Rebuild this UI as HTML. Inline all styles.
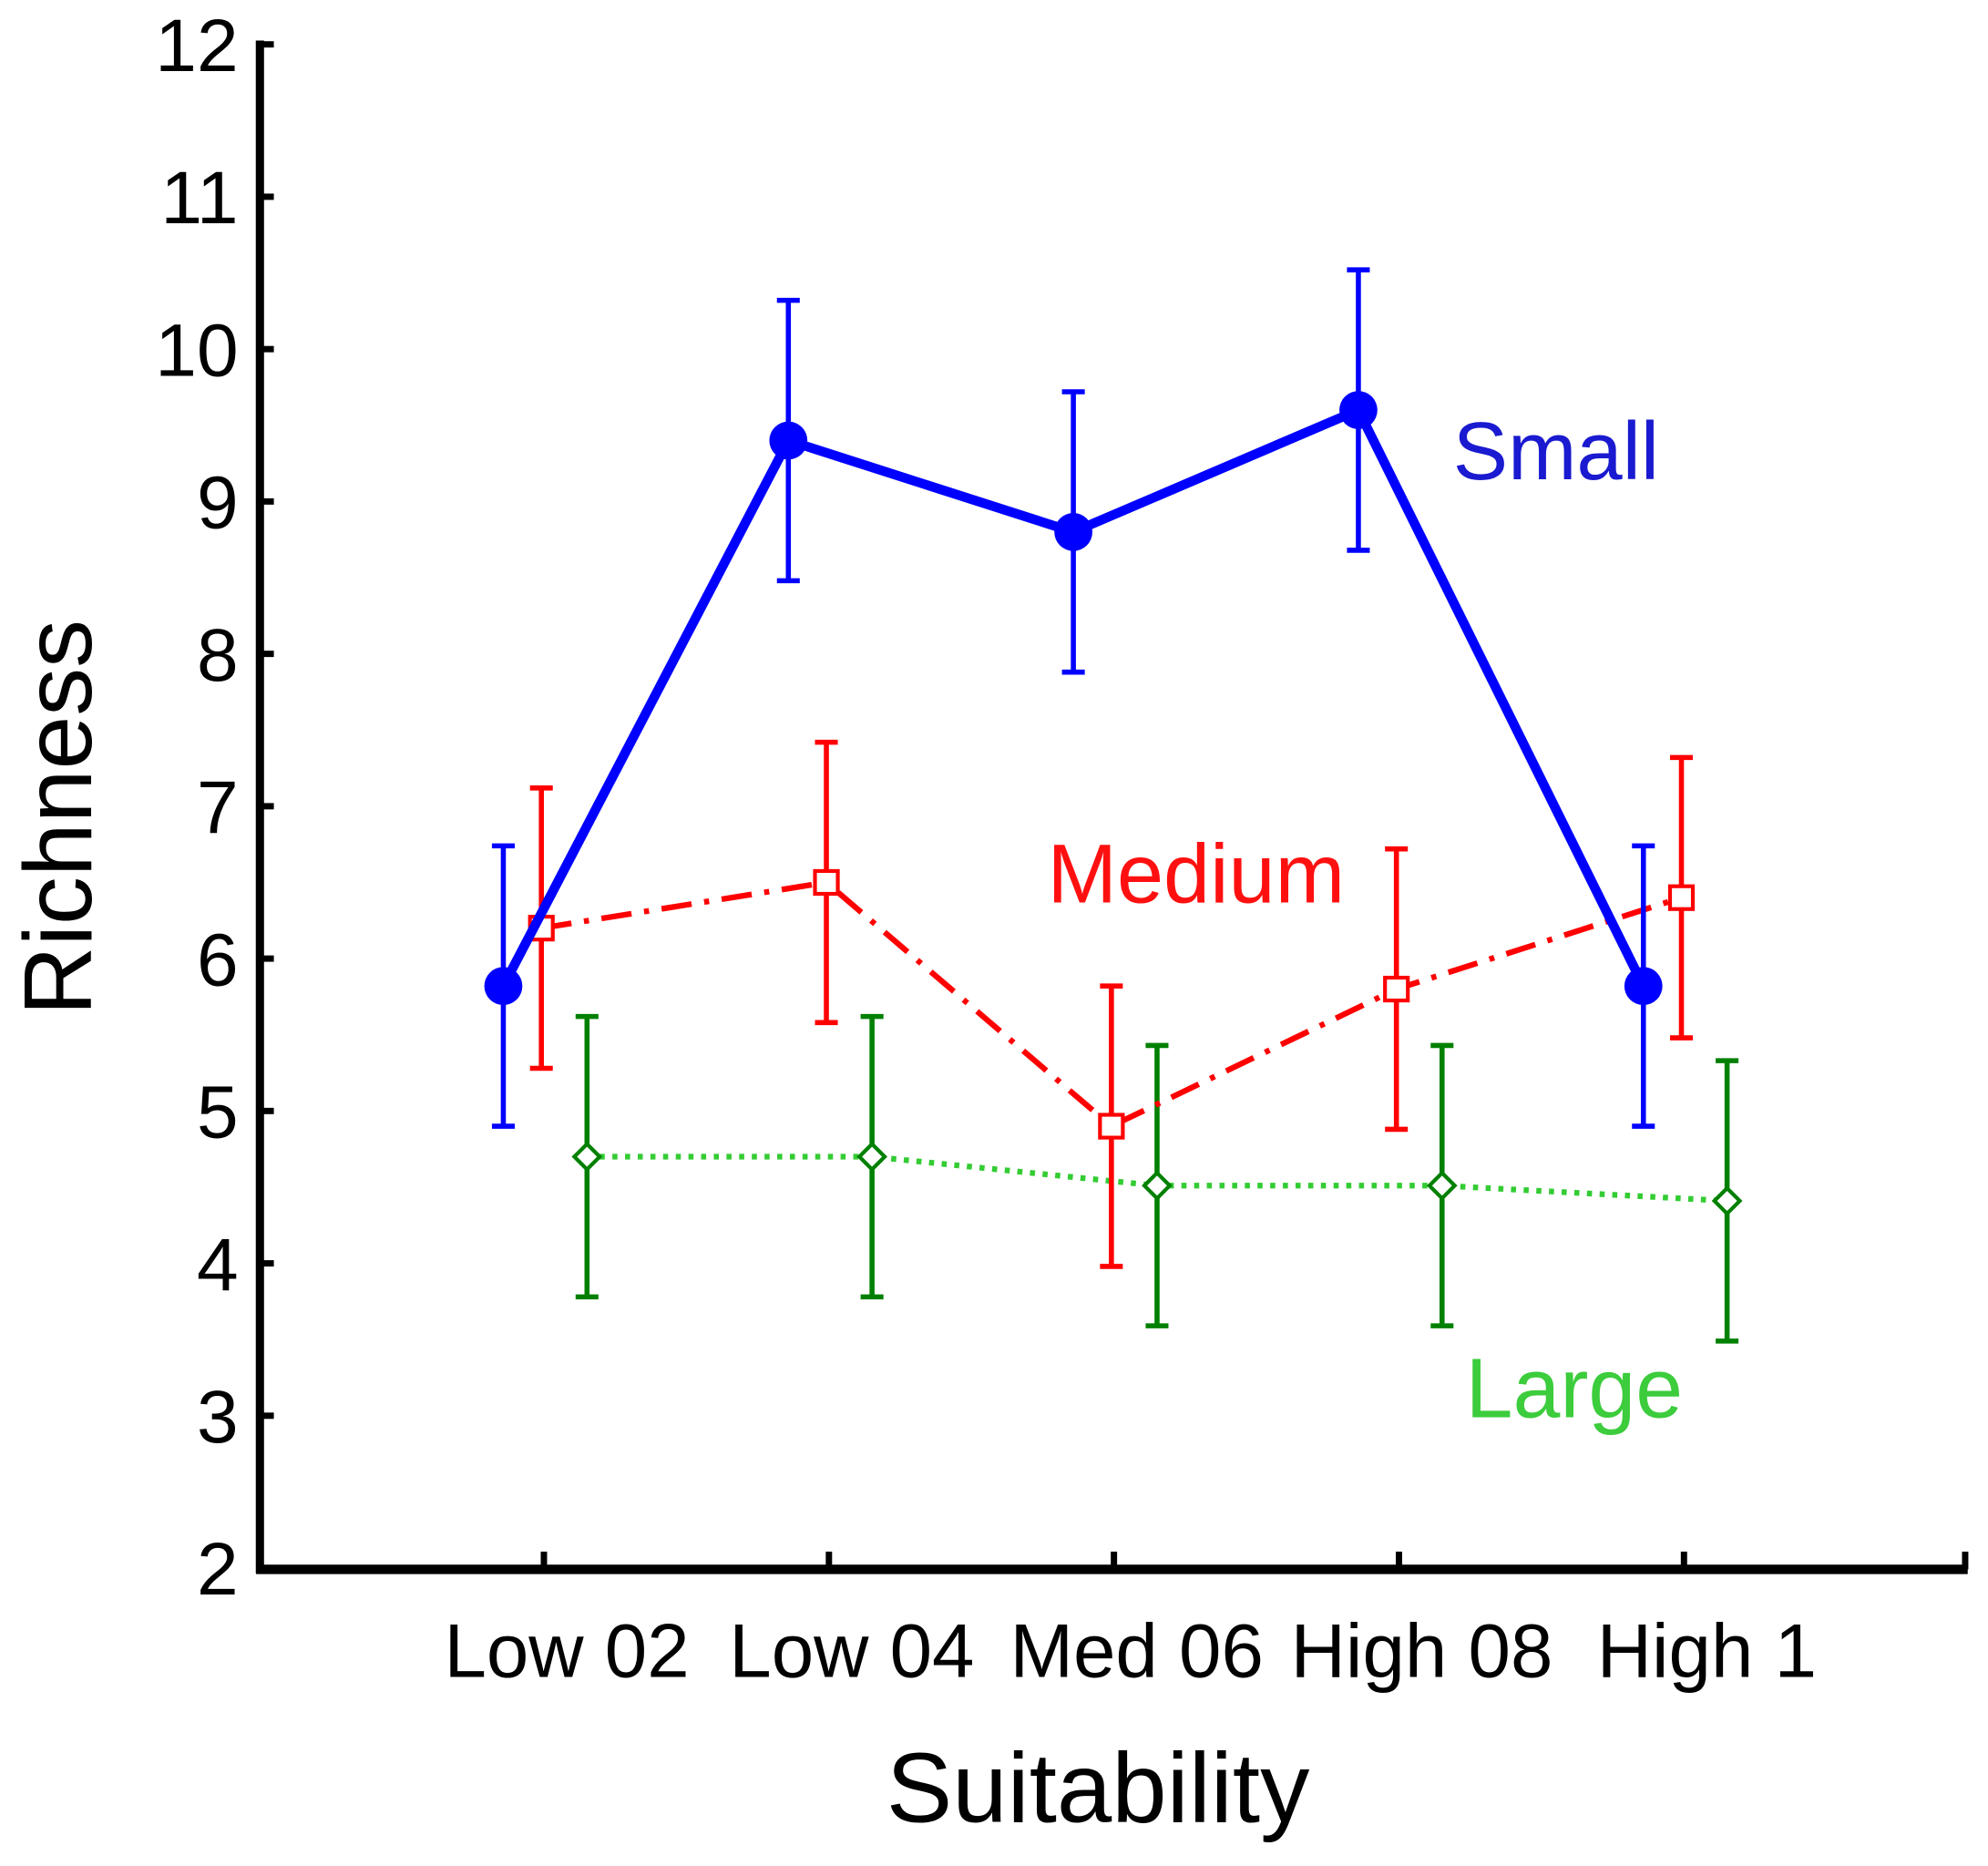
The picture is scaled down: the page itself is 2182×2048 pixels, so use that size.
<!DOCTYPE html>
<html><head><meta charset="utf-8"><style>html,body{margin:0;padding:0;background:#fff}svg{display:block}</style></head>
<body>
<svg width="2182" height="2048" viewBox="0 0 1568 1472" preserveAspectRatio="none" xmlns="http://www.w3.org/2000/svg" font-family="Liberation Sans, Arial, sans-serif">
<g id="axes"></g>
<g id="series"></g>
<text x="866" y="1437" font-size="78" text-anchor="middle">Suitability</text>
<text transform="translate(72,645) rotate(-90)" font-size="76" text-anchor="middle">Richness</text>
<text x="1146" y="378" font-size="65" fill="#1a1ad0">Small</text>
<text x="826" y="712" font-size="66" fill="#ff1010">Medium</text>
<text x="1156" y="1118" font-size="67" fill="#3ccc3c">Large</text>
<script>
const categories = ["Low 02","Low 04","Med 06","High 08","High 1"];
const yTicks = [2,3,4,5,6,7,8,9,10,11,12];
const smallMean = [5.82,9.4,8.8,9.6,5.82];
const smallErr = [0.92,0.92,0.92,0.92,0.92];
const mediumMean = [6.2,6.5,4.9,5.8,6.4];
const mediumErr = [0.92,0.92,0.92,0.92,0.92];
const largeMean = [4.7,4.7,4.51,4.51,4.41];
const largeErr = [0.92,0.92,0.92,0.92,0.92];

const NS="http://www.w3.org/2000/svg";
function y(v){return 1237-(v-2)*120.2;}
function xc(i){return 429+i*224.8;}
function mk(tag,attrs,parent){const e=document.createElementNS(NS,tag);for(const k in attrs)e.setAttribute(k,attrs[k]);parent.appendChild(e);return e;}
const ax=document.getElementById('axes');
let e=mk('line',{x1:205,y1:32,x2:205,y2:1241,stroke:'#000','stroke-width':6.5},ax);


e=mk('line',{x1:202,y1:1238,x2:1552,y2:1238,stroke:'#000','stroke-width':7.5},ax);


yTicks.forEach(t=>{
  let l=mk('line',{x1:205,y1:y(t),x2:216,y2:y(t),stroke:'#000','stroke-width':5},ax);
  
  
  let tx=mk('text',{x:188,y:y(t)+21,'font-size':59,'text-anchor':'end'},ax);
  tx.textContent=t;
  
  
});
categories.forEach((c,i)=>{
  let l=mk('line',{x1:xc(i),y1:1224,x2:xc(i),y2:1238,stroke:'#000','stroke-width':5},ax);
  
  
  let tx=mk('text',{x:xc(i)+18,y:1323,'font-size':60,'text-anchor':'middle'},ax);
  tx.textContent=c;
  
  
});
e=mk('line',{x1:1550,y1:1224,x2:1550,y2:1238,stroke:'#000','stroke-width':5},ax);



const sg=document.getElementById('series');
function series(name,mean,err,off,errColor,lineColor,lw,dash,marker){
  const g=mk('g',{},sg);
  
  
  mean.forEach((m,i)=>{
    const X=xc(i)+off;
    const eb=mk('path',{d:`M${X},${y(m-err[i])}V${y(m+err[i])}M${X-9},${y(m+err[i])}H${X+9}M${X-9},${y(m-err[i])}H${X+9}`,stroke:errColor,'stroke-width':4,fill:'none'},g);
    
    
  });
  const pts=mean.map((m,i)=>(xc(i)+off)+','+y(m)).join(' ');
  const pl=mk('polyline',{points:pts,stroke:lineColor,'stroke-width':lw,fill:'none','stroke-dasharray':dash},g);
  
  
  mean.forEach((m,i)=>{
    const X=xc(i)+off,Y=y(m);let p;
    if(marker==='circle')p=mk('circle',{cx:X,cy:Y,r:15,fill:'#0000ff'},g);
    else if(marker==='square')p=mk('rect',{x:X-9,y:Y-9,width:18,height:18,fill:'#fff',stroke:'#ff0000','stroke-width':3},g);
    else p=mk('path',{d:`M${X},${Y-10}L${X+10},${Y}L${X},${Y+10}L${X-10},${Y}Z`,fill:'#fff',stroke:'#008000','stroke-width':3},g);
    
    
  });
}
series('large',largeMean,largeErr,34,'#008000','#33cc33',4.5,'4 6','diamond');
series('medium',mediumMean,mediumErr,-2,'#ff0000','#ff0000',4.5,'24 10 4 10','square');
series('small',smallMean,smallErr,-32,'#0000ff','#0000ff',7.5,'','circle');
</script>
</svg>
</body></html>
